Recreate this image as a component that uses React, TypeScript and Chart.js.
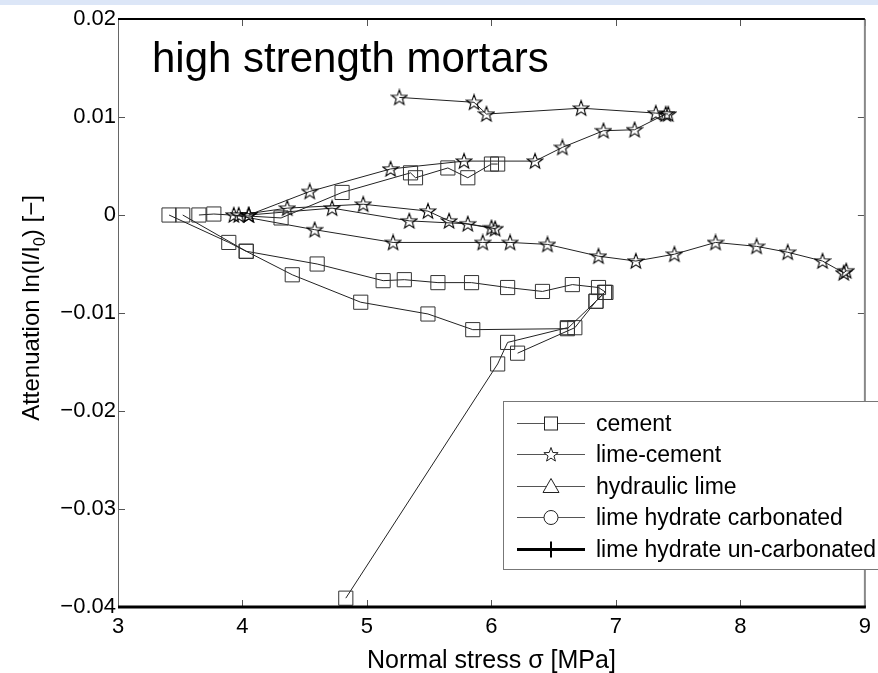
import React, { useEffect, useRef } from "react";
import { Chart, registerables } from "chart.js";
Chart.register(...registerables);

// ---------- data ----------
const X_TICK_LABELS = ["3", "4", "5", "6", "7", "8", "9"];
const Y_TICK_LABELS = ["−0.04", "−0.03", "−0.02", "−0.01", "0", "0.01", "0.02"];
const LEGEND_LABELS = ["cement", "lime-cement", "hydraulic lime", "lime hydrate carbonated", "lime hydrate un-carbonated"];
const TITLE = "high strength mortars";
const X_TITLE = "Normal stress σ [MPa]";

// cement curves (normal stress MPa, attenuation)
const cement1X = [3.41, 3.89, 4.03, 4.6, 5.13, 5.3, 5.57, 5.84, 6.13, 6.41, 6.65, 6.86, 6.92];
const cement1Y = [0.0, -0.0028, -0.0037, -0.005, -0.0067, -0.0066, -0.0069, -0.0069, -0.0074, -0.0078, -0.0071, -0.0074, -0.0079];
const cement2X = [3.52, 4.03, 4.4, 4.95, 5.49, 5.85, 6.61, 6.84, 6.91];
const cement2Y = [0.0, -0.0037, -0.0061, -0.0089, -0.0101, -0.0117, -0.0116, -0.0088, -0.0079];
const cement3X = [4.83, 6.05, 6.13, 6.61];
const cement3Y = [-0.0391, -0.0152, -0.013, -0.0115];
const cement4X = [6.21, 6.67, 6.84, 6.91];
const cement4Y = [-0.0141, -0.0115, -0.0088, -0.0079];
const cement5X = [3.65, 3.77, 4.31, 4.8, 5.35, 5.39, 5.65, 5.81, 6.0, 6.05];
const cement5Y = [0.0, 0.0001, -0.0003, 0.0023, 0.0043, 0.0038, 0.0048, 0.0038, 0.0052, 0.0052];

// lime-cement curves
const lime1X = [5.26, 5.86, 5.96, 6.72, 7.32, 7.42];
const lime1Y = [0.012, 0.0115, 0.0103, 0.0109, 0.0104, 0.0103];
const lime2X = [4.05, 4.54, 5.19, 5.78, 6.35, 6.57, 6.9, 7.15, 7.4];
const lime2Y = [0.0, 0.0024, 0.0047, 0.0055, 0.0055, 0.0069, 0.0086, 0.0087, 0.0103];
const lime3X = [4.05, 4.72, 5.34, 5.81, 6.0];
const lime3Y = [0.0, 0.0007, -0.0006, -0.0009, -0.0013];
const lime4X = [3.97, 4.36, 4.97, 5.49, 5.66, 6.03];
const lime4Y = [0.0, 0.0007, 0.0011, 0.0004, -0.0006, -0.0014];
const lime5X = [3.93, 4.58, 5.21, 5.93, 6.15, 6.45, 6.86, 7.16, 7.47, 7.8, 8.13, 8.38, 8.66, 8.83, 8.85];
const lime5Y = [0.0, -0.0015, -0.0028, -0.0028, -0.0028, -0.003, -0.0042, -0.0047, -0.004, -0.0028, -0.0032, -0.0038, -0.0047, -0.0059, -0.0057];

const CEMENT_CURVES: [number[], number[]][] = [
  [cement1X, cement1Y], [cement2X, cement2Y], [cement3X, cement3Y], [cement4X, cement4Y], [cement5X, cement5Y],
];
const LIME_CURVES: [number[], number[]][] = [
  [lime1X, lime1Y], [lime2X, lime2Y], [lime3X, lime3Y], [lime4X, lime4Y], [lime5X, lime5Y],
];

const FONT = '"Liberation Sans", Arial, sans-serif';

function starPath(g: CanvasRenderingContext2D, cx: number, cy: number, R: number, r: number) {
  g.beginPath();
  for (let i = 0; i < 10; i++) {
    const a = -Math.PI / 2 + (i * Math.PI) / 5;
    const rad = i % 2 === 0 ? R : r;
    const px = cx + rad * Math.cos(a);
    const py = cy + rad * Math.sin(a);
    if (i === 0) g.moveTo(px, py);
    else g.lineTo(px, py);
  }
  g.closePath();
  g.stroke();
}

function makeStar(): HTMLCanvasElement {
  const c = document.createElement("canvas");
  c.width = 18;
  c.height = 18;
  const g = c.getContext("2d")!;
  g.strokeStyle = "#000";
  g.lineWidth = 1.1;
  starPath(g, 9, 9.5, 8, 3.3);
  return c;
}

const framePlugin = {
  id: "frame",
  afterDatasetsDraw(chart: any) {
    const { ctx, chartArea: ca, scales } = chart;
    const xs = scales.x, ys = scales.y;
    ctx.save();
    // inward tick marks
    ctx.strokeStyle = "#555";
    ctx.lineWidth = 1;
    const tl = 7;
    ctx.beginPath();
    xs.ticks.forEach((t: any) => {
      const px = Math.round(xs.getPixelForValue(t.value)) + 0.5;
      ctx.moveTo(px, ca.bottom);
      ctx.lineTo(px, ca.bottom - tl);
      ctx.moveTo(px, ca.top);
      ctx.lineTo(px, ca.top + tl);
    });
    ys.ticks.forEach((t: any) => {
      const py = Math.round(ys.getPixelForValue(t.value)) + 0.5;
      ctx.moveTo(ca.left, py);
      ctx.lineTo(ca.left + tl, py);
      ctx.moveTo(ca.right, py);
      ctx.lineTo(ca.right - tl, py);
    });
    ctx.stroke();
    // spines
    ctx.strokeStyle = "#666";
    ctx.lineWidth = 1;
    ctx.beginPath();
    ctx.moveTo(ca.left + 0.5, ca.top);
    ctx.lineTo(ca.left + 0.5, ca.bottom);
    ctx.stroke();
    ctx.strokeStyle = "#888";
    ctx.lineWidth = 2;
    ctx.beginPath();
    ctx.moveTo(ca.right, ca.top);
    ctx.lineTo(ca.right, ca.bottom);
    ctx.stroke();
    ctx.strokeStyle = "#000";
    ctx.lineWidth = 2;
    ctx.beginPath();
    ctx.moveTo(ca.left, ca.top);
    ctx.lineTo(ca.right, ca.top);
    ctx.stroke();
    ctx.lineWidth = 3;
    ctx.beginPath();
    ctx.moveTo(ca.left, ca.bottom);
    ctx.lineTo(ca.right + 1, ca.bottom);
    ctx.stroke();

    // title inside the axes
    ctx.fillStyle = "#000";
    ctx.font = `42px ${FONT}`;
    ctx.textAlign = "left";
    ctx.textBaseline = "alphabetic";
    ctx.fillText(TITLE, ca.left + 34, ca.top + 53);

    // legend
    const lx = 503, ly = 401, lw = 390, lh = 168;
    ctx.fillStyle = "#fff";
    ctx.fillRect(lx, ly, lw, lh);
    ctx.strokeStyle = "#777";
    ctx.lineWidth = 1;
    ctx.strokeRect(lx + 0.5, ly + 0.5, lw, lh);
    ctx.font = `23px ${FONT}`;
    ctx.textBaseline = "middle";
    LEGEND_LABELS.forEach((lab, i) => {
      const y = Math.round(ly + 22 + i * 31.4) + 0.5;
      const mx = 551;
      ctx.strokeStyle = i === 4 ? "#000" : "#555";
      ctx.lineWidth = i === 4 ? 3 : 1;
      ctx.beginPath();
      ctx.moveTo(517, y);
      ctx.lineTo(585, y);
      ctx.stroke();
      ctx.strokeStyle = "#222";
      ctx.lineWidth = 1;
      if (i === 0) {
        ctx.fillStyle = "#fff";
        ctx.fillRect(mx - 6.5, y - 6.5, 13, 13);
        ctx.strokeRect(mx - 6.5, y - 6.5, 13, 13);
      } else if (i === 1) {
        ctx.fillStyle = "#fff";
        ctx.fillRect(mx - 5, y - 5, 10, 10);
        starPath(ctx, mx, y + 0.5, 7.5, 3.1);
      } else if (i === 2) {
        ctx.fillStyle = "#fff";
        ctx.beginPath();
        ctx.moveTo(mx, y - 8);
        ctx.lineTo(mx + 8, y + 6);
        ctx.lineTo(mx - 8, y + 6);
        ctx.closePath();
        ctx.fill();
        ctx.stroke();
      } else if (i === 3) {
        ctx.fillStyle = "#fff";
        ctx.beginPath();
        ctx.arc(mx, y, 7, 0, Math.PI * 2);
        ctx.fill();
        ctx.stroke();
      } else {
        ctx.strokeStyle = "#000";
        ctx.lineWidth = 2;
        ctx.beginPath();
        ctx.moveTo(mx, y - 8);
        ctx.lineTo(mx, y + 8);
        ctx.stroke();
      }
      ctx.fillStyle = "#000";
      ctx.fillText(lab, 596, y + 1);
    });

    // x axis title
    ctx.font = `25px ${FONT}`;
    ctx.textAlign = "center";
    ctx.textBaseline = "middle";
    ctx.fillText(X_TITLE, (ca.left + ca.right) / 2, 661);

    // y axis title with subscript
    ctx.translate(39, 308);
    ctx.rotate(-Math.PI / 2);
    ctx.textAlign = "left";
    ctx.textBaseline = "alphabetic";
    const p1 = "Attenuation ln(I/I";
    const p2 = "0";
    const p3 = ") [−]";
    ctx.font = `24px ${FONT}`;
    const w1 = ctx.measureText(p1).width;
    const w3 = ctx.measureText(p3).width;
    ctx.font = `16px ${FONT}`;
    const w2 = ctx.measureText(p2).width;
    const start = -(w1 + w2 + w3) / 2;
    ctx.font = `24px ${FONT}`;
    ctx.fillText(p1, start, 0);
    ctx.font = `16px ${FONT}`;
    ctx.fillText(p2, start + w1, 6);
    ctx.font = `24px ${FONT}`;
    ctx.fillText(p3, start + w1 + w2, 0);
    ctx.restore();
  },
};

export default function App() {
  const ref = useRef<HTMLCanvasElement | null>(null);
  useEffect(() => {
    if (!ref.current) return;
    const star = makeStar();
    const mk = (xs: number[], ys: number[]) => xs.map((x, i) => ({ x, y: ys[i] }));
    const datasets: any[] = [];
    CEMENT_CURVES.forEach(([xs, ys], i) => {
      datasets.push({
        label: i === 0 ? LEGEND_LABELS[0] : "",
        data: mk(xs, ys),
        showLine: true,
        borderColor: "#222",
        borderWidth: 1,
        pointStyle: "rect",
        pointRadius: 10,
        pointBorderColor: "#333",
        pointBorderWidth: 1,
        pointBackgroundColor: "rgba(0,0,0,0)",
        backgroundColor: "rgba(0,0,0,0)",
      });
    });
    LIME_CURVES.forEach(([xs, ys], i) => {
      datasets.push({
        label: i === 0 ? LEGEND_LABELS[1] : "",
        data: mk(xs, ys),
        showLine: true,
        borderColor: "#222",
        borderWidth: 1,
        pointStyle: star,
        pointRadius: 8,
        backgroundColor: "rgba(0,0,0,0)",
      });
    });
    const chart = new Chart(ref.current, {
      type: "scatter",
      data: { datasets },
      options: {
        animation: false,
        responsive: false,
        maintainAspectRatio: false,
        layout: { padding: { top: 19, right: 13, left: 0, bottom: 0 } },
        plugins: { legend: { display: false }, tooltip: { enabled: false }, title: { display: false } },
        scales: {
          x: {
            type: "linear",
            min: 3,
            max: 9,
            grid: { display: true, drawOnChartArea: false, drawTicks: false },
            border: { display: false },
            ticks: {
              stepSize: 1,
              padding: 7,
              color: "#000",
              font: { family: FONT, size: 22 },
              maxRotation: 0,
              callback: (_v: any, i: number) => X_TICK_LABELS[i],
            },
            afterFit: (s: any) => {
              s.height = 66;
            },
          },
          y: {
            type: "linear",
            min: -0.04,
            max: 0.02,
            grid: { display: true, drawOnChartArea: false, drawTicks: false },
            border: { display: false },
            ticks: {
              stepSize: 0.01,
              padding: 2,
              color: "#000",
              font: { family: FONT, size: 22 },
              callback: (_v: any, i: number) => Y_TICK_LABELS[i],
            },
            afterFit: (s: any) => {
              s.width = 118;
            },
          },
        },
      },
      plugins: [framePlugin],
    });
    return () => chart.destroy();
  }, []);
  return (
    <div style={{ position: "fixed", left: 0, top: 0, width: 878, height: 673, background: "#fff" }}>
      <canvas ref={ref} width={878} height={673} style={{ display: "block" }} />
      <div style={{ position: "absolute", left: 0, top: 0, width: 878, height: 5, background: "#dce6f7" }} />
    </div>
  );
}
